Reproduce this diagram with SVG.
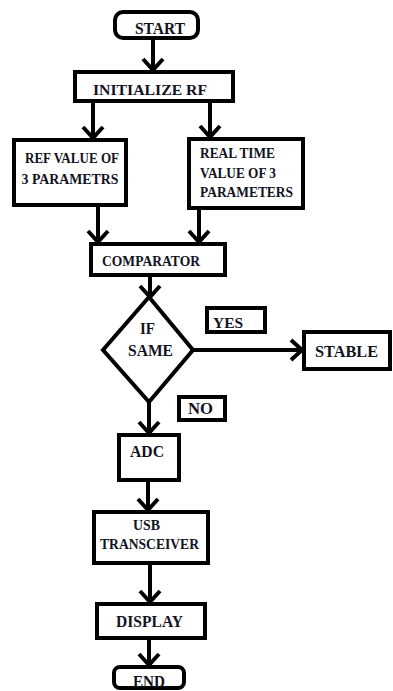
<svg xmlns="http://www.w3.org/2000/svg" width="393" height="691" viewBox="0 0 393 691">
<style>
.b{fill:#fff;stroke:#000;stroke-width:4}
text{font-family:'Liberation Serif','Times New Roman',Times,serif;font-weight:700;fill:#12121e}
.S{font-size:15px}
.M{font-size:16px}
.L{font-size:17.5px}
.c{stroke:#000;stroke-width:4;fill:none}
</style>
<defs>
<marker id="ah" viewBox="-16 -14 20 28" markerUnits="userSpaceOnUse" markerWidth="20" markerHeight="28" refX="0" refY="0" orient="auto">
<path d="M-11,-10 L0,0 L-11,10" fill="none" stroke="#000" stroke-width="4"/>
</marker>
</defs>
<rect width="393" height="691" fill="#fff"/>
<g id="connectors">
<line class="c" x1="153" y1="40" x2="153" y2="70" marker-end="url(#ah)"/>
<line class="c" x1="93" y1="103" x2="93" y2="138" marker-end="url(#ah)"/>
<line class="c" x1="210" y1="103" x2="210" y2="137" marker-end="url(#ah)"/>
<line class="c" x1="98" y1="207" x2="98" y2="242" marker-end="url(#ah)"/>
<line class="c" x1="199" y1="210" x2="199" y2="242" marker-end="url(#ah)"/>
<line class="c" x1="150" y1="277" x2="150" y2="297" marker-end="url(#ah)"/>
<line class="c" x1="193" y1="350" x2="302" y2="350" marker-end="url(#ah)"/>
<line class="c" x1="149" y1="402" x2="149" y2="433" marker-end="url(#ah)"/>
<line class="c" x1="148" y1="482" x2="148" y2="510" marker-end="url(#ah)"/>
<line class="c" x1="150" y1="565" x2="150" y2="602" marker-end="url(#ah)"/>
<line class="c" x1="149" y1="640" x2="149" y2="665" marker-end="url(#ah)"/>
</g>
<g id="start"><rect class="b" x="115" y="12" width="83" height="26" rx="8"/><text class="L" x="135" y="34" textLength="50" lengthAdjust="spacingAndGlyphs">START</text></g>
<g id="init"><rect class="b" x="75" y="72" width="158" height="29"/><text class="S" x="93" y="95" textLength="114" lengthAdjust="spacingAndGlyphs">INITIALIZE RF</text></g>
<g id="ref"><rect class="b" x="14" y="140" width="112" height="65"/><text class="S" x="25" y="162.5" textLength="94" lengthAdjust="spacingAndGlyphs">REF VALUE OF</text><text class="S" x="21.5" y="183.5" textLength="97" lengthAdjust="spacingAndGlyphs">3 PARAMETRS</text></g>
<g id="real"><rect class="b" x="189" y="139" width="114" height="69"/><text class="S" x="200" y="158" textLength="75" lengthAdjust="spacingAndGlyphs">REAL TIME</text><text class="S" x="200" y="178" textLength="76" lengthAdjust="spacingAndGlyphs">VALUE OF 3</text><text class="S" x="200" y="197" textLength="93" lengthAdjust="spacingAndGlyphs">PARAMETERS</text></g>
<g id="comparator"><rect class="b" x="91" y="244" width="134" height="31"/><text class="S" x="102" y="266" textLength="98" lengthAdjust="spacingAndGlyphs">COMPARATOR</text></g>
<g id="decision"><polygon class="b" points="149,297 193,350 149,402 103,350"/><text class="L" x="140" y="333.5" textLength="15" lengthAdjust="spacingAndGlyphs">IF</text><text class="L" x="128" y="355.5" textLength="45" lengthAdjust="spacingAndGlyphs">SAME</text></g>
<g id="yes"><rect class="b" x="207" y="308" width="58" height="24"/><text class="S" x="213" y="327.5" textLength="30" lengthAdjust="spacingAndGlyphs">YES</text></g>
<g id="stable"><rect class="b" x="304" y="332" width="86" height="37"/><text class="L" x="315" y="356.5" textLength="63" lengthAdjust="spacingAndGlyphs">STABLE</text></g>
<g id="no"><rect class="b" x="179" y="397" width="46" height="23"/><text class="M" x="188" y="414" textLength="25" lengthAdjust="spacingAndGlyphs">NO</text></g>
<g id="adc"><rect class="b" x="119" y="435" width="60" height="45"/><text class="L" x="130" y="457" textLength="34" lengthAdjust="spacingAndGlyphs">ADC</text></g>
<g id="usb"><rect class="b" x="94" y="512" width="114" height="51"/><text class="S" x="133" y="530" textLength="27" lengthAdjust="spacingAndGlyphs">USB</text><text class="S" x="100" y="549" textLength="99" lengthAdjust="spacingAndGlyphs">TRANSCEIVER</text></g>
<g id="display"><rect class="b" x="97" y="604" width="108" height="34"/><text class="L" x="116" y="626.5" textLength="67" lengthAdjust="spacingAndGlyphs">DISPLAY</text></g>
<g id="end"><rect class="b" x="114" y="667" width="70" height="21" rx="6"/><text class="L" x="133" y="686.5" textLength="32" lengthAdjust="spacingAndGlyphs">END</text></g>
</svg>
